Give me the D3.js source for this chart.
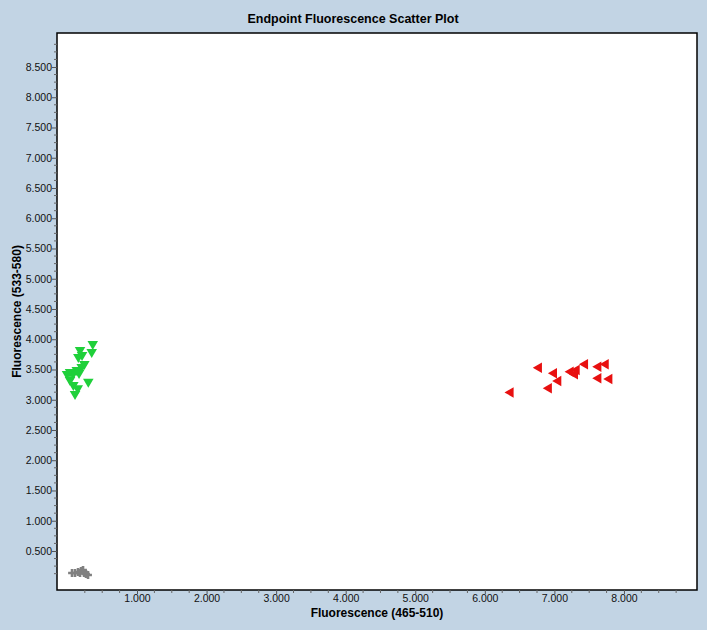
<!DOCTYPE html>
<html><head><meta charset="utf-8">
<script src="https://cdn.jsdelivr.net/npm/d3@7"></script>
<style>
html,body{margin:0;padding:0;background:#c2d4e4;}
text{font-family:"Liberation Sans",Arial,sans-serif;}
</style></head>
<body>
<svg id="chart" width="707" height="630"></svg>
<script>
const title = "Endpoint Fluorescence Scatter Plot";
const xLabel = "Fluorescence (465-510)";
const yLabel = "Fluorescence (533-580)";
const xTicks = [1000,2000,3000,4000,5000,6000,7000,8000];
const yTicks = [500,1000,1500,2000,2500,3000,3500,4000,4500,5000,5500,6000,6500,7000,7500,8000,8500];
const xTickLabels = ["1.000","2.000","3.000","4.000","5.000","6.000","7.000","8.000"];
const yTickLabels = ["0.500","1.000","1.500","2.000","2.500","3.000","3.500","4.000","4.500","5.000","5.500","6.000","6.500","7.000","7.500","8.000","8.500"];

// green cluster (down triangles)
const greenX = [364,349,181,210,157,243,205,134,37,80,167,300,37,85,148,109,-6];
const greenY = [3921,3789,3822,3740,3707,3591,3541,3492,3459,3426,3442,3298,3326,3244,3189,3095,3426];
// red cluster (left triangles)
const redX = [6370,6777,6920,6994,7056,7234,7320,7296,7440,7632,7738,7632,7790];
const redY = [3121,3529,3189,3437,3310,3463,3491,3420,3586,3547,3586,3355,3344];
// gray cluster
const grayX = [66,109,152,195,224,239,267,296,181];
const grayY = [136,136,153,170,186,136,120,103,136];

const svg = d3.select("#chart");
const L = 57, T = 33, R = 697, B = 590;
const x = d3.scaleLinear().domain([-150, 9050]).range([L, R]);
const y = d3.scaleLinear().domain([-145, 9062]).range([B, T]);

svg.append("rect").attr("x", L).attr("y", T).attr("width", R - L).attr("height", B - T)
  .attr("fill", "#fff").attr("stroke", "#000").attr("stroke-width", 1.5);

svg.append("text").attr("x", 353).attr("y", 23).attr("text-anchor", "middle")
  .attr("font-size", 12.5).attr("font-weight", "bold").attr("fill", "#000").text(title);

const xMinor = d3.range(250, 9000, 250).filter(v => v % 1000 !== 0);
const yMinor = d3.range(125, 8900, 125).filter(v => v % 500 !== 0);

const xAxis = d3.axisBottom(x).tickValues(xTicks).tickSize(4).tickPadding(1)
  .tickFormat((d, i) => xTickLabels[i]);
const gx = svg.append("g").attr("transform", `translate(0,${B})`).call(xAxis);
gx.select(".domain").remove();
gx.selectAll(".tick line").attr("stroke", "#555");
gx.selectAll(".tick text").attr("font-size", 10.5).attr("fill", "#111").attr("font-family", "Liberation Sans, Arial, sans-serif");
svg.append("g").selectAll("line").data(xMinor).join("line")
  .attr("x1", d => x(d)).attr("x2", d => x(d)).attr("y1", B).attr("y2", B + 3).attr("stroke", "#666");

const yAxis = d3.axisLeft(y).tickValues(yTicks).tickSize(5).tickPadding(0)
  .tickFormat((d, i) => yTickLabels[i]);
const gy = svg.append("g").attr("transform", `translate(${L},0)`).call(yAxis);
gy.select(".domain").remove();
gy.selectAll(".tick line").attr("stroke", "#555");
gy.selectAll(".tick text").attr("font-size", 10.5).attr("fill", "#111").attr("font-family", "Liberation Sans, Arial, sans-serif");
svg.append("g").selectAll("line").data(yMinor).join("line")
  .attr("x1", L - 3).attr("x2", L).attr("y1", d => y(d)).attr("y2", d => y(d)).attr("stroke", "#666");

svg.append("text").attr("x", (L + R) / 2).attr("y", 617).attr("text-anchor", "middle")
  .attr("font-size", 12).attr("font-weight", "bold").attr("fill", "#000").text(xLabel);
svg.append("text").attr("transform", `translate(21,${(T + B) / 2}) rotate(-90)`).attr("text-anchor", "middle")
  .attr("font-size", 12).attr("font-weight", "bold").attr("fill", "#000").text(yLabel);

const tri = d3.symbol().type(d3.symbolTriangle).size(48);
const plot = svg.append("g");
plot.selectAll(".g").data(greenX.map((v, i) => [v, greenY[i]])).join("path")
  .attr("d", tri).attr("fill", "#1fd03a")
  .attr("transform", d => `translate(${x(d[0])},${y(d[1])}) rotate(180)`);
plot.selectAll(".r").data(redX.map((v, i) => [v, redY[i]])).join("path")
  .attr("d", tri).attr("fill", "#e81010")
  .attr("transform", d => `translate(${x(d[0])},${y(d[1])}) rotate(-90)`);
const cross = d3.symbol().type(d3.symbolCross).size(34);
plot.selectAll(".k").data(grayX.map((v, i) => [v, grayY[i]])).join("path")
  .attr("d", cross).attr("fill", "#808080")
  .attr("transform", d => `translate(${x(d[0])},${y(d[1])})`);
</script>
</body></html>
